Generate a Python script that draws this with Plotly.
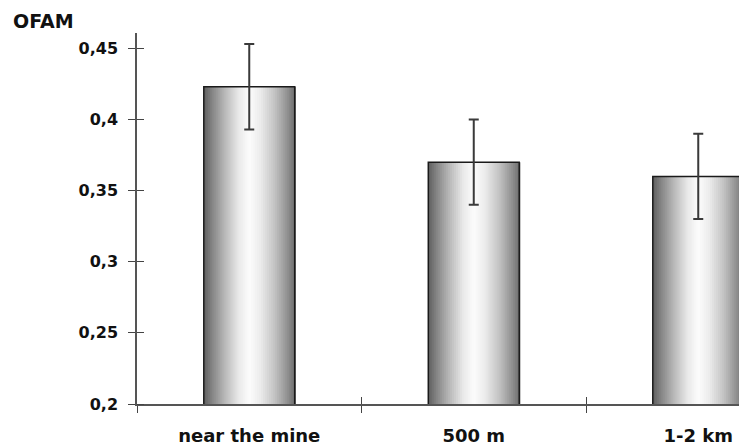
import numpy as np
import plotly.graph_objects as go

# Data
categories = ["near the mine", "500 m", "1-2 km"]
ofam_mean = [0.423, 0.370, 0.360]
ofam_err = [0.030, 0.030, 0.030]
y_ticks = [0.2, 0.25, 0.3, 0.35, 0.4, 0.45]

# Styling
FONT = "DejaVu Sans, Liberation Sans, Arial, sans-serif"
BAR_W = 0.405
N_STRIPS = 46
X_RANGE = [-0.5, 2.1815]
Y_RANGE = [0.2, 0.4608]
TICK_COLOR = "#444444"

# Cylinder-like horizontal shading profile (position, grey level)
shade_pos = [0.0, 0.08, 0.22, 0.38, 0.5, 0.62, 0.78, 0.92, 1.0]
shade_lvl = [95, 128, 180, 232, 252, 236, 195, 145, 112]


def grey(t):
    v = int(round(np.interp(t, shade_pos, shade_lvl)))
    return f"rgb({v},{v},{v})"


fig = go.Figure()

# Shaded bar body as thin vertical strips sharing each bar's value
strip_w = BAR_W / N_STRIPS
for k in range(N_STRIPS):
    t = (k + 0.5) / N_STRIPS
    fig.add_trace(go.Bar(
        x=categories, y=ofam_mean,
        width=strip_w * 1.6,
        offset=-BAR_W / 2 + k * strip_w,
        marker=dict(color=grey(t), line=dict(width=0)),
        showlegend=False, hoverinfo="skip",
    ))

# Bar outline and error bars
fig.add_trace(go.Bar(
    x=categories, y=ofam_mean,
    width=BAR_W, offset=-BAR_W / 2,
    marker=dict(color="rgba(0,0,0,0)", line=dict(color="#1a1a1a", width=1.5)),
    error_y=dict(type="data", array=ofam_err, visible=True,
                 color="#3a3a3a", thickness=2, width=5),
    showlegend=False,
))

# Transparent markers on a linear overlay x axis, which carries the
# upward half of the category boundary ticks
fig.add_trace(go.Scatter(
    x=list(range(len(categories))), y=ofam_mean,
    xaxis="x2", yaxis="y",
    mode="markers", marker=dict(opacity=0, size=1),
    showlegend=False, hoverinfo="skip",
))

fig.update_layout(
    width=739, height=447,
    margin=dict(l=137, r=0, t=33, b=43),
    paper_bgcolor="white", plot_bgcolor="white",
    barmode="overlay",
    separators=", ",
    font=dict(family=FONT, color="#111111"),
    xaxis=dict(
        type="category", range=X_RANGE, automargin=False,
        tickson="boundaries", ticks="outside", ticklen=7,
        tickcolor=TICK_COLOR, tickwidth=1.2,
        showline=True, linecolor="#555555", linewidth=1.5,
        showgrid=False, zeroline=False,
        tickfont=dict(family=FONT, size=18, weight="bold", color="#111111"),
        ticklabelstandoff=15,
    ),
    xaxis2=dict(
        type="linear", overlaying="x", anchor="y", side="bottom",
        range=X_RANGE, tickvals=[-0.5, 0.5, 1.5], automargin=False,
        ticks="inside", ticklen=7, tickcolor=TICK_COLOR, tickwidth=1.2,
        showticklabels=False, showline=False, showgrid=False, zeroline=False,
    ),
    yaxis=dict(
        range=Y_RANGE, tickvals=y_ticks, automargin=False,
        ticks="outside", ticklen=7, tickcolor=TICK_COLOR, tickwidth=1.2,
        minor=dict(tickvals=y_ticks, ticks="inside", ticklen=7,
                   tickcolor=TICK_COLOR, tickwidth=1.2, showgrid=False),
        showline=True, linecolor="#555555", linewidth=1.5,
        showgrid=False, zeroline=False,
        tickfont=dict(family=FONT, size=16, weight="bold", color="#111111"),
        ticklabelstandoff=7,
    ),
    annotations=[dict(
        text="OFAM", xref="paper", yref="paper",
        x=-137 / 602, y=1.0, xanchor="left", yanchor="bottom", yshift=-1,
        xshift=11, showarrow=False,
        font=dict(family=FONT, size=19, weight="bold", color="#111111"),
    )],
)

fig.write_html("out.html")
